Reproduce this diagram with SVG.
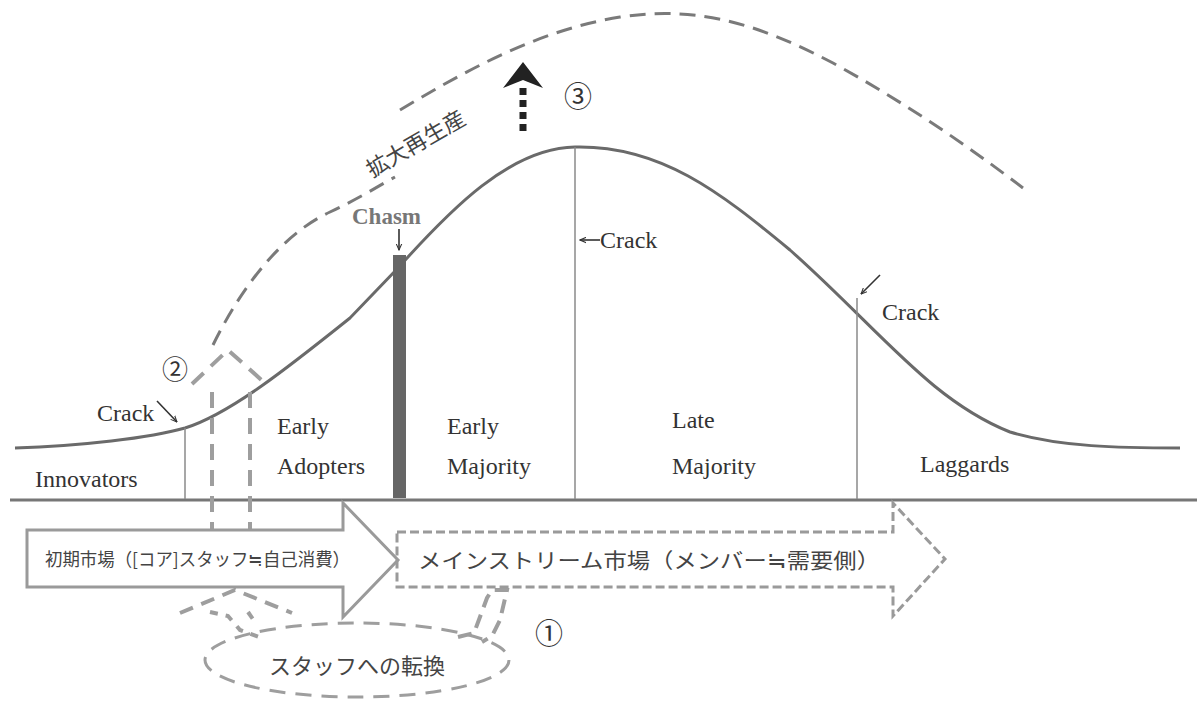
<svg xmlns="http://www.w3.org/2000/svg" width="1197" height="702" viewBox="0 0 1197 702">
<defs>
<style>
.lbl{font-family:"Liberation Serif",serif;font-size:24px;fill:#333}
.jp{font-family:"Noto Sans CJK JP",sans-serif;fill:#444}
.num{font-family:"Noto Sans CJK JP","DejaVu Sans",sans-serif;fill:#333}
.curve{fill:none;stroke:#6a6a6a;stroke-width:3}
.vline{stroke:#8a8a8a;stroke-width:1.5}
.dashtop{fill:none;stroke:#7a7a7a;stroke-width:3;stroke-dasharray:16 9}
.dashgr{fill:none;stroke:#9e9e9e;stroke-width:4;stroke-dasharray:16 10}
.small{stroke:#333;stroke-width:1.6;fill:none}
</style>
<marker id="ah" viewBox="0 0 10 10" refX="9" refY="5" markerWidth="7" markerHeight="7" orient="auto" markerUnits="userSpaceOnUse">
<path d="M0,1 L9,5 L0,9" fill="none" stroke="#333" stroke-width="1.5"/>
</marker>
</defs>
<rect width="1197" height="702" fill="#fff"/>

<g id="connectors">
<line x1="10" y1="500" x2="1197" y2="500" stroke="#777" stroke-width="3"/>
<path class="curve" d="M15,448 C80,446 150,438 185,428 C230,414 290,366 350,318 L398,268 C450,210 510,148 575,147 C660,145 720,192 790,250 C880,330 930,400 1010,432 C1060,447 1120,448 1180,448"/>
<line class="vline" x1="185" y1="428" x2="185" y2="499"/>
<line class="vline" x1="575" y1="147" x2="575" y2="499"/>
<line class="vline" x1="857" y1="298" x2="857" y2="499"/>
<rect x="393" y="255" width="13" height="243" fill="#666"/>
<path class="dashtop" d="M213,345 C240,290 280,235 330,212 C360,198 380,185 395,177"/>
<path class="dashtop" d="M400,110 C470,68 540,30 620,17 C700,5 760,25 833,63 C900,100 960,140 1023,188"/>
<line x1="523" y1="88" x2="523" y2="136" stroke="#222" stroke-width="7" stroke-dasharray="7 5"/>
<polygon points="523,62 543,88 523,80 503,88" fill="#222"/>
<path class="dashgr" d="M192,384 L228,350 L266,384"/>
<line class="dashgr" x1="212" y1="392" x2="212" y2="530"/>
<line class="dashgr" x1="250" y1="392" x2="250" y2="530"/>
<path fill="none" stroke="#9e9e9e" stroke-width="4" stroke-dasharray="14 9" d="M180,613 L235,590 L292,613"/>
<path fill="none" stroke="#9e9e9e" stroke-width="4" stroke-dasharray="8 8" d="M210,612 L228,616 L240,630 L262,638"/>
<path fill="none" stroke="#9e9e9e" stroke-width="4" stroke-dasharray="8 8" d="M248,612 L255,622"/>
<path fill="none" stroke="#9e9e9e" stroke-width="4" stroke-dasharray="14 8" d="M458,637 L474,633 L487,598 L492,590 L507,590 L500,620 L492,636 L482,642"/>
<line class="small" x1="157" y1="401" x2="177" y2="422" marker-end="url(#ah)"/>
<line class="small" x1="600" y1="240" x2="580" y2="240" marker-end="url(#ah)"/>
<line class="small" x1="880" y1="275" x2="861" y2="294" marker-end="url(#ah)"/>
<line class="small" x1="399" y1="229" x2="399" y2="250" marker-end="url(#ah)"/>
</g>

<g id="early-market">
<path d="M27,530 L343,530 L343,503 L398,560 L343,617 L343,587 L27,587 Z" fill="#fff" stroke="#9a9a9a" stroke-width="3"/>
<text class="jp" x="45" y="566" font-size="18" textLength="305" lengthAdjust="spacingAndGlyphs">初期市場（[コア]スタッフ≒自己消費）</text>
</g>

<g id="mainstream-market">
<path d="M397,532 L893,532 L893,503 L945,559 L893,616 L893,587 L397,587 Z" fill="none" stroke="#9a9a9a" stroke-width="3" stroke-dasharray="9 4"/>
<text class="jp" x="418" y="568" font-size="21" textLength="462" lengthAdjust="spacingAndGlyphs">メインストリーム市場（メンバー≒需要側）</text>
</g>

<g id="staff-conversion">
<ellipse cx="357" cy="660" rx="152" ry="37" fill="none" stroke="#9e9e9e" stroke-width="3" stroke-dasharray="16 10"/>
<text class="jp" x="357" y="674" font-size="22" text-anchor="middle">スタッフへの転換</text>
</g>

<g id="segments">
<text class="lbl" x="35" y="487">Innovators</text>
<text class="lbl" x="277" y="434">Early</text>
<text class="lbl" x="277" y="474">Adopters</text>
<text class="lbl" x="447" y="434">Early</text>
<text class="lbl" x="447" y="474">Majority</text>
<text class="lbl" x="672" y="428">Late</text>
<text class="lbl" x="672" y="474">Majority</text>
<text class="lbl" x="920" y="472">Laggards</text>
</g>

<g id="labels">
<text class="lbl" x="97" y="421">Crack</text>
<text class="lbl" x="600" y="248">Crack</text>
<text class="lbl" x="882" y="320">Crack</text>
<text x="352" y="224" font-family="Liberation Serif,serif" font-weight="bold" font-size="23" fill="#777">Chasm</text>
<text class="jp" x="0" y="0" font-size="22" transform="translate(372,178) rotate(-30)">拡大再生産</text>
<text class="num" x="175" y="379" font-size="26" text-anchor="middle">②</text>
<text class="num" x="578" y="107" font-size="28" text-anchor="middle">③</text>
<text class="num" x="549" y="644" font-size="28" text-anchor="middle">①</text>
</g>
</svg>
